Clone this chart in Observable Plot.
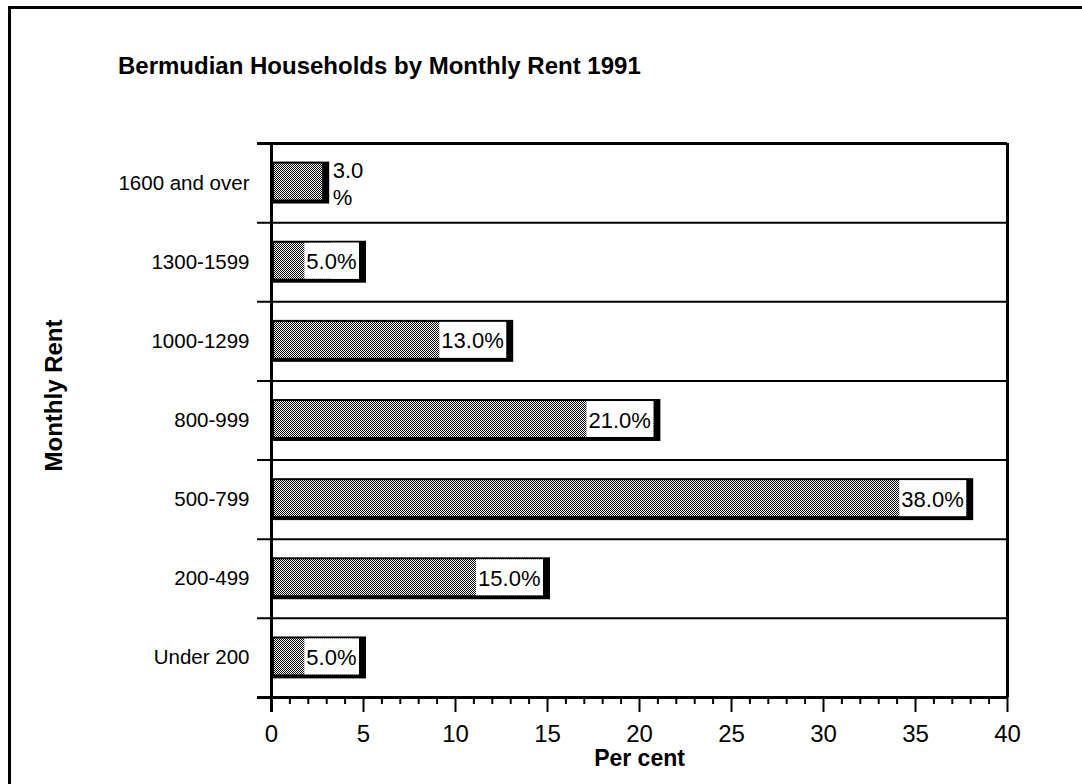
<!DOCTYPE html>
<html>
<head>
<meta charset="utf-8">
<script src="https://cdn.jsdelivr.net/npm/d3@7"></script>
<script src="https://cdn.jsdelivr.net/npm/@observablehq/plot@0.6"></script>
<style>
  html, body { margin: 0; padding: 0; background: #fff; }
  body { width: 1082px; height: 784px; overflow: hidden; position: relative; font-family: "Liberation Sans", Arial, Helvetica, sans-serif; }
  #border { position: absolute; left: 8px; top: 6px; width: 1200px; height: 900px; border-top: 3px solid #000; border-left: 3px solid #000; }
  #title { position: absolute; left: 118px; top: 54px; font-size: 24px; line-height: 24px; font-weight: bold; color: #000; white-space: nowrap; }
  #chart { position: absolute; left: 0; top: 0; }
</style>
</head>
<body>
<div id="border"></div>
<div id="title">Bermudian Households by Monthly Rent 1991</div>
<div id="chart"></div>
<script>
// ---- data ----
const categories = ["1600 and over", "1300-1599", "1000-1299", "800-999", "500-799", "200-499", "Under 200"];
const percents = [3.0, 5.0, 13.0, 21.0, 38.0, 15.0, 5.0];
const majorTicks = [0, 5, 10, 15, 20, 25, 30, 35, 40];
const minorTicks = [1, 2, 3, 4, 6, 7, 8, 9, 11, 12, 13, 14, 16, 17, 18, 19, 21, 22, 23, 24, 26, 27, 28, 29, 31, 32, 33, 34, 36, 37, 38, 39];
const xLabel = "Per cent";
const yLabel = "Monthly Rent";

const data = categories.map((c, i) => ({rent: c, pct: percents[i]}));
const fmt = d => d.pct.toFixed(1) + "%";
const inside = data.filter(d => d.pct >= 4);
const outside = data.filter(d => d.pct < 4);

const W = 1082, H = 784, mt = 143, mb = 87, ml = 271, mr = 75;
const FH = H - mt - mb;
const step = FH / categories.length;
const pin = 0.47;
const font = "'Liberation Sans', Arial, Helvetica, sans-serif";

const svg = Plot.plot({
  width: W, height: H,
  marginTop: mt, marginBottom: mb, marginLeft: ml, marginRight: mr,
  style: {fontFamily: font, fontSize: "22px", color: "#000", background: "transparent"},
  x: {domain: [0, 40], axis: null, label: null},
  y: {domain: categories, paddingInner: pin, paddingOuter: pin / 2, round: false, axis: null, label: null},
  marks: [
    // band separators (top of each band) and bottom axis line
    Plot.ruleY(categories, {y: d => d, dy: -step / 2, insetLeft: -14, stroke: "#000", strokeWidth: 2}),
    Plot.ruleY([categories[0]], {y: d => d, dy: -step / 2, insetLeft: -14, stroke: "#000", strokeWidth: 3}),
    Plot.ruleY([categories[categories.length - 1]], {y: d => d, dy: step / 2, insetLeft: -14, stroke: "#000", strokeWidth: 3}),
    // left axis and right frame
    Plot.ruleX([0], {insetBottom: -15, stroke: "#000", strokeWidth: 3}),
    Plot.ruleX([40], {stroke: "#000", strokeWidth: 3}),
    // x ticks and tick labels
    Plot.ruleX(majorTicks, {insetTop: FH, insetBottom: -15, stroke: "#000", strokeWidth: 2}),
    Plot.ruleX(minorTicks, {insetTop: FH, insetBottom: -7, stroke: "#000", strokeWidth: 2}),
    Plot.text(majorTicks, {x: d => d, text: d => String(d), frameAnchor: "bottom", lineAnchor: "top", dy: 27, fontSize: 24, fill: "#000"}),
    // bars: black outline then dithered fill
    Plot.barX(data, {x: "pct", y: "rent", fill: "#000", insetRight: -3}),
    Plot.barX(data, {x: "pct", y: "rent", fill: "url(#dither)", insetTop: 2, insetBottom: 4, insetLeft: 3, insetRight: 4}),
    // value labels
    Plot.text(inside, {x: "pct", y: "rent", text: fmt, textAnchor: "end", dx: -7, fontSize: 22, fill: "#000"}),
    Plot.text(outside, {x: "pct", y: "rent", text: d => d.pct.toFixed(1) + "\n%", textAnchor: "start", lineAnchor: "top", lineHeight: 1.23, dx: 6, dy: -24, fontSize: 22, fill: "#000"}),
    // category labels
    Plot.text(categories, {y: d => d, text: d => d, frameAnchor: "left", textAnchor: "end", dx: -22, fontSize: 20.5, fill: "#000"}),
    // axis titles
    Plot.text([xLabel], {text: d => d, frameAnchor: "bottom", textAnchor: "middle", lineAnchor: "middle", dy: 61, fontWeight: "bold", fontSize: 23, fill: "#000"}),
    Plot.text([yLabel], {text: d => d, frameAnchor: "left", textAnchor: "middle", lineAnchor: "middle", dx: -217, dy: -25, rotate: -90, fontWeight: "bold", fontSize: 24, fill: "#000"})
  ]
});

// dither pattern
const defs = d3.select(svg).insert("defs", ":first-child");
const pat = defs.append("pattern").attr("id", "dither").attr("width", 2).attr("height", 2).attr("patternUnits", "userSpaceOnUse");
pat.append("rect").attr("width", 2).attr("height", 2).attr("fill", "#fff");
pat.append("rect").attr("x", 0).attr("y", 0).attr("width", 1).attr("height", 1).attr("fill", "#000");
pat.append("rect").attr("x", 1).attr("y", 1).attr("width", 1).attr("height", 1).attr("fill", "#000");

document.getElementById("chart").append(svg);

// white boxes behind the in-bar labels
const xs = svg.scale("x"), ys = svg.scale("y");
const svgRect = svg.getBoundingClientRect();
const labelTexts = d3.select(svg).selectAll("text").filter(function() { return /^\d+\.\d%$/.test(this.textContent); });
let boxLayer = null;
labelTexts.each(function() {
  const markGroup = this.parentNode;
  if (!boxLayer) boxLayer = d3.select(markGroup.parentNode).insert("g", () => markGroup);
  const bb = this.getBoundingClientRect();
  const cy = bb.top - svgRect.top + bb.height / 2;
  let best = null, bestD = Infinity;
  inside.forEach(d => {
    const c = ys.apply(d.rent) + ys.bandwidth / 2;
    const dd = Math.abs(c - cy);
    if (dd < bestD) { bestD = dd; best = d; }
  });
  const x0 = bb.left - svgRect.left - 2;
  const x1 = xs.apply(best.pct) - 4;
  boxLayer.append("rect")
    .attr("x", x0).attr("width", Math.max(0, x1 - x0))
    .attr("y", ys.apply(best.rent) + 2).attr("height", ys.bandwidth - 6)
    .attr("fill", "#fff");
});
</script>
</body>
</html>
